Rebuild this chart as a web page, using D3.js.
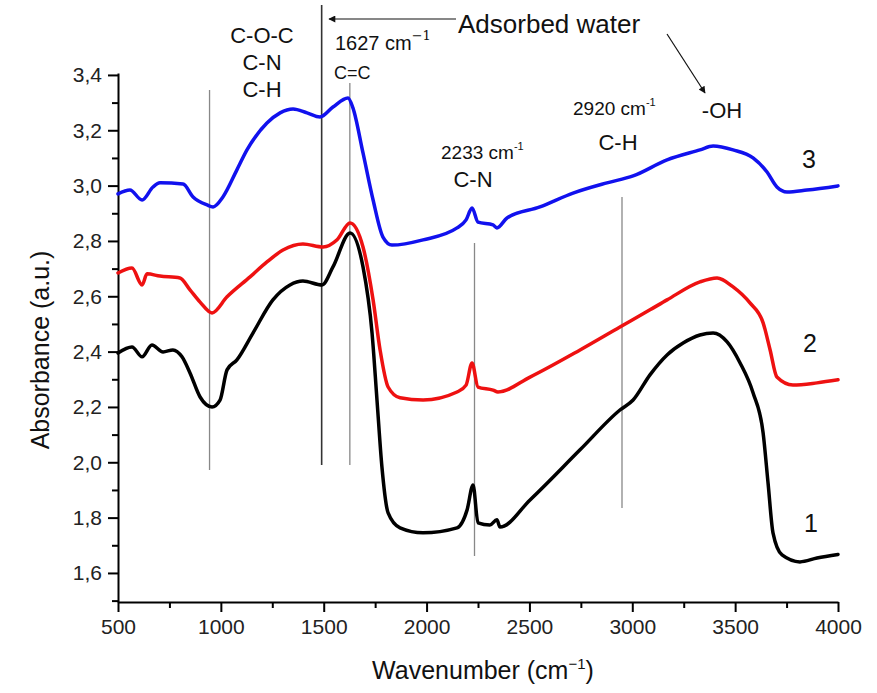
<!DOCTYPE html>
<html lang="en">
  <head>
    <meta charset="UTF-8" />
    <title>FTIR spectra</title>
    <style>
      body {
        margin: 0;
        background: #fff;
        font-family: "Liberation Sans", Arial, sans-serif;
      }
      .axis path,
      .axis line {
        stroke: #000;
        stroke-width: 2px;
      }
      .axis text {
        font-family: "Liberation Sans", Arial, sans-serif;
        font-size: 21px;
        fill: #222;
      }
      .spectrum {
        fill: none;
        stroke-width: 3.5px;
        stroke-linejoin: round;
        stroke-linecap: round;
      }
      .note {
        font-family: "Liberation Sans", Arial, sans-serif;
        fill: #111;
      }
    </style>
  </head>
  <body>
    <div class="svg-container"></div>
    <script src="https://d3js.org/d3.v7.min.js"></script>
    <script>
      // wavenumber (cm-1) / absorbance pairs
      var wave1 = [500, 568, 617, 665, 719, 767, 811, 850, 899, 957, 996, 1030, 1078, 1156, 1253, 1336, 1399, 1492, 1545, 1628, 1691, 1735, 1759, 1783, 1813, 1871, 1983, 2148, 2197, 2226, 2250, 2308, 2342, 2357, 2503, 2746, 2940, 3004, 3086, 3169, 3247, 3329, 3393, 3461, 3524, 3587, 3636, 3660, 3684, 3728, 3815, 3898, 4000];
      var abs1 = [2.395, 2.417, 2.381, 2.424, 2.399, 2.406, 2.381, 2.323, 2.236, 2.2, 2.225, 2.334, 2.37, 2.467, 2.587, 2.641, 2.655, 2.641, 2.706, 2.829, 2.706, 2.467, 2.225, 1.983, 1.817, 1.763, 1.745, 1.763, 1.828, 1.918, 1.781, 1.773, 1.792, 1.766, 1.864, 2.045, 2.189, 2.225, 2.316, 2.388, 2.431, 2.46, 2.467, 2.435, 2.359, 2.251, 2.106, 1.925, 1.745, 1.665, 1.64, 1.654, 1.667];

      var wave2 = [500, 568, 617, 641, 704, 801, 850, 899, 957, 1030, 1142, 1224, 1302, 1399, 1497, 1565, 1628, 1691, 1740, 1774, 1813, 1871, 1983, 2148, 2192, 2221, 2250, 2323, 2347, 2503, 2746, 2940, 3086, 3169, 3329, 3412, 3490, 3572, 3636, 3670, 3703, 3781, 3898, 4000];
      var abs2 = [2.684, 2.702, 2.641, 2.681, 2.673, 2.666, 2.623, 2.579, 2.54, 2.598, 2.67, 2.724, 2.767, 2.789, 2.778, 2.804, 2.865, 2.778, 2.587, 2.406, 2.272, 2.233, 2.225, 2.254, 2.279, 2.359, 2.272, 2.261, 2.254, 2.308, 2.406, 2.489, 2.551, 2.587, 2.652, 2.666, 2.634, 2.576, 2.504, 2.406, 2.308, 2.279, 2.287, 2.298];

      var wave3 = [500, 558, 617, 670, 704, 816, 865, 933, 962, 1010, 1078, 1127, 1224, 1288, 1351, 1419, 1482, 1545, 1618, 1642, 1691, 1740, 1788, 1832, 1983, 2148, 2192, 2221, 2250, 2323, 2342, 2391, 2551, 2712, 2877, 3004, 3169, 3329, 3393, 3490, 3587, 3655, 3703, 3752, 3849, 4000];
      var abs3 = [2.97, 2.984, 2.948, 2.995, 3.01, 3.006, 2.959, 2.93, 2.923, 2.959, 3.057, 3.129, 3.226, 3.263, 3.277, 3.263, 3.248, 3.284, 3.317, 3.281, 3.118, 2.948, 2.814, 2.785, 2.804, 2.847, 2.876, 2.919, 2.868, 2.858, 2.847, 2.883, 2.923, 2.973, 3.01, 3.035, 3.093, 3.129, 3.143, 3.129, 3.1, 3.049, 2.995, 2.977, 2.984, 2.999];

      var seriesNames = ["1", "2", "3"];
      var seriesColors = ["#000000", "#ee1111", "#1111ee"];

      // marker lines: wavenumber and absorbance span
      var markWave = [945, 1490, 1627, 2233, 2950];
      var markFrom = [1.972, 1.99, 1.99, 1.661, 1.835];
      var markTo = [3.346, 3.653, 3.371, 2.793, 2.959];

      var xTicks = [500, 1000, 1500, 2000, 2500, 3000, 3500, 4000];
      var xMinor = [750, 1250, 1750, 2250, 2750, 3250, 3750];
      var yTicks = [1.6, 1.8, 2.0, 2.2, 2.4, 2.6, 2.8, 3.0, 3.2, 3.4];
      var yMinor = [1.5, 1.7, 1.9, 2.1, 2.3, 2.5, 2.7, 2.9, 3.1, 3.3];

      var width = 877,
        height = 693;

      var svg = d3
        .select(".svg-container")
        .append("svg")
        .attr("width", width)
        .attr("height", height);

      var x = d3.scaleLinear().domain([500, 4000]).range([118, 838]);
      var y = d3.scaleLinear().domain([1.495, 3.407]).range([602, 73]);

      var fmt = (d) => d3.format(".1f")(d).replace(".", ",");

      // minor ticks first
      svg
        .append("g")
        .attr("class", "axis")
        .attr("transform", "translate(0,602)")
        .call(d3.axisBottom(x).tickValues(xMinor).tickSize(6).tickFormat(""))
        .select(".domain")
        .remove();
      svg
        .append("g")
        .attr("class", "axis")
        .attr("transform", "translate(118,0)")
        .call(d3.axisLeft(y).tickValues(yMinor).tickSize(6).tickFormat(""))
        .select(".domain")
        .remove();

      // major ticks + axis lines
      svg
        .append("g")
        .attr("class", "axis")
        .attr("transform", "translate(0,602)")
        .call(
          d3
            .axisBottom(x)
            .tickValues(xTicks)
            .tickSize(10)
            .tickSizeOuter(0)
            .tickPadding(7)
            .tickFormat(d3.format("d"))
        );
      svg
        .append("g")
        .attr("class", "axis")
        .attr("transform", "translate(118,0)")
        .call(d3.axisLeft(y).tickValues(yTicks).tickSize(10).tickSizeOuter(0).tickFormat(fmt).tickPadding(6));

      // axis titles
      var xTitle = svg
        .append("text")
        .attr("class", "note")
        .attr("x", 483)
        .attr("y", 679)
        .attr("text-anchor", "middle")
        .style("font-size", "25px");
      xTitle.append("tspan").text("Wavenumber (cm");
      xTitle.append("tspan").attr("dy", -10).style("font-size", "15px").text("\u22121");
      xTitle.append("tspan").attr("dy", 10).text(")");

      svg
        .append("text")
        .attr("class", "note")
        .attr("transform", "translate(49,350) rotate(-90)")
        .attr("text-anchor", "middle")
        .style("font-size", "25px")
        .text("Absorbance (a.u.)");

      // marker lines
      svg
        .selectAll(".mark")
        .data(markWave)
        .enter()
        .append("line")
        .attr("class", "mark")
        .attr("x1", (d) => x(d))
        .attr("x2", (d) => x(d))
        .attr("y1", (d, i) => y(markFrom[i]))
        .attr("y2", (d, i) => y(markTo[i]))
        .attr("stroke", (d) => (d === 1490 ? "#333" : "#888"))
        .attr("stroke-width", (d) => (d === 1490 ? 1.6 : 1.3));

      // spectra
      var allWaves = [wave1, wave2, wave3],
        allAbs = [abs1, abs2, abs3];
      var line = d3
        .line()
        .curve(d3.curveMonotoneX)
        .x((d) => x(d[0]))
        .y((d) => y(d[1]));

      seriesNames.forEach((name, i) => {
        var pts = allWaves[i].map((w, j) => [w, allAbs[i][j]]);
        svg
          .append("path")
          .datum(pts)
          .attr("class", "spectrum")
          .attr("stroke", seriesColors[i])
          .attr("d", line);
      });

      // annotations
      function note(tx, ty, size, txt, anchor) {
        return svg
          .append("text")
          .attr("class", "note")
          .attr("x", tx)
          .attr("y", ty)
          .attr("text-anchor", anchor || "start")
          .style("font-size", size + "px")
          .text(txt);
      }

      note(262, 43, 22, "C-O-C", "middle");
      note(262, 70, 22, "C-N", "middle");
      note(262, 97, 22, "C-H", "middle");

      var t1627 = note(335, 50, 20, "1627 cm");
      t1627
        .append("tspan")
        .attr("dy", -10)
        .style("font-size", "13px")
        .style("font-family", "'DejaVu Serif', serif")
        .text("\u22121");
      note(334, 79, 18, "C=C");

      note(458, 33, 26, "Adsorbed water");
      note(722, 118, 22, "-OH", "middle");

      var t2920 = note(573, 115, 19, "2920 cm");
      t2920.append("tspan").attr("dy", -9).style("font-size", "11px").text("-1");
      note(618, 150, 22, "C-H", "middle");

      var t2233 = note(441, 159, 19, "2233 cm");
      t2233.append("tspan").attr("dy", -9).style("font-size", "11px").text("-1");
      note(473, 187, 22, "C-N", "middle");

      note(802, 168, 25, "3");
      note(803, 352, 25, "2");
      note(804, 532, 25, "1");

      // arrows
      var defs = svg.append("defs");
      defs
        .append("marker")
        .attr("id", "head")
        .attr("viewBox", "0 0 10 10")
        .attr("refX", 9)
        .attr("refY", 5)
        .attr("markerWidth", 9)
        .attr("markerHeight", 7)
        .attr("markerUnits", "userSpaceOnUse")
        .attr("orient", "auto")
        .append("path")
        .attr("d", "M0,0L10,5L0,10z")
        .attr("fill", "#111");

      svg
        .append("line")
        .attr("x1", 456)
        .attr("y1", 19)
        .attr("x2", 329)
        .attr("y2", 19)
        .attr("stroke", "#111")
        .attr("stroke-width", 1.2)
        .attr("marker-end", "url(#head)");
      svg
        .append("line")
        .attr("x1", 667)
        .attr("y1", 34)
        .attr("x2", 705)
        .attr("y2", 93)
        .attr("stroke", "#111")
        .attr("stroke-width", 1.2)
        .attr("marker-end", "url(#head)");
    </script>
  </body>
</html>
